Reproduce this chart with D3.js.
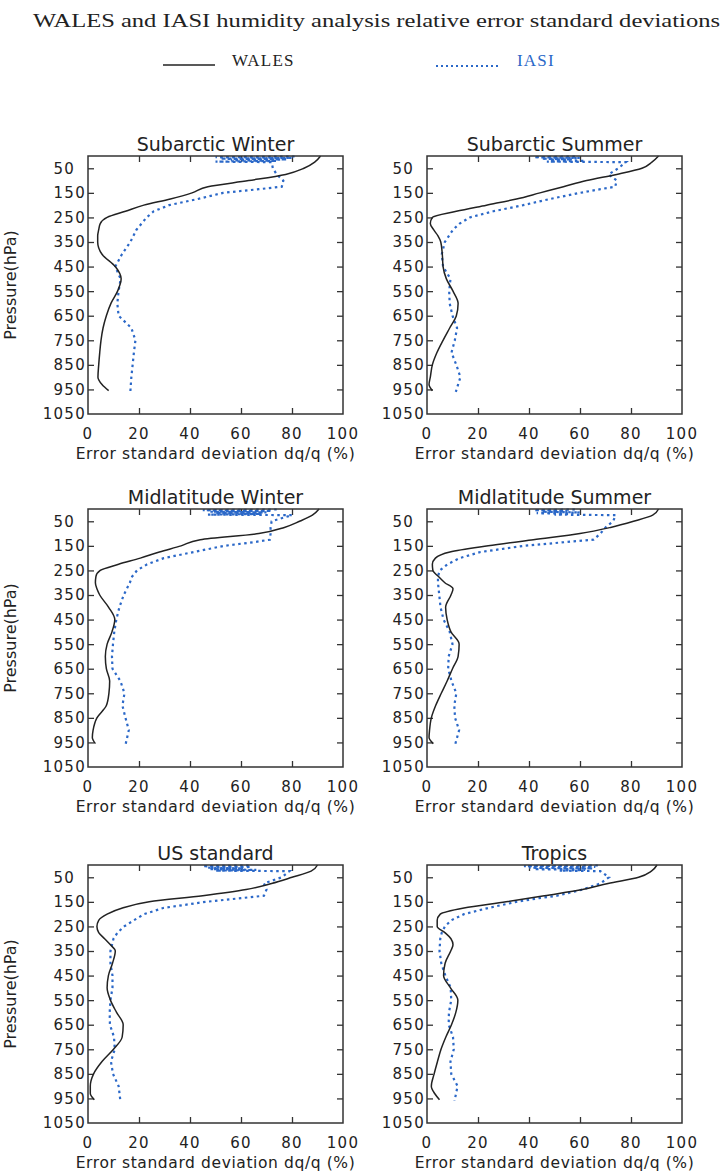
<!DOCTYPE html>
<html>
<head>
<meta charset="utf-8">
<script src="https://cdn.jsdelivr.net/npm/d3@7/dist/d3.min.js"></script>
<style>
  body { margin: 0; background: #fff; }
</style>
</head>
<body>
<div id="chart"></div>
<script>
const panelTitles = ["Subarctic Winter", "Subarctic Summer", "Midlatitude Winter",
                     "Midlatitude Summer", "US standard", "Tropics"];

// pressure levels (hPa) the two curves are sampled on
const walesPressure = [0, 25, 50, 75, 100, 125, 150, 175, 200, 225, 250, 275, 300, 325, 350,
                       400, 450, 500, 550, 600, 650, 700, 750, 800, 850, 900, 930, 955];
const iasiPressure = [2, 5, 8, 11, 14, 17, 20, 23, 25, 50, 75, 100, 125, 135, 150, 175, 200,
                      225, 250, 275, 300, 350, 400, 450, 500, 550, 600, 650, 700, 750, 800,
                      850, 900, 960];

// WALES relative error std dev (%)
const walesSubWinter = [91.2, 88.9, 84.7, 77.5, 63, 47, 40.8, 32.3, 21.9, 14.7, 7.5, 4.8, 4.2, 3.8, 3.8,
                        5.5, 10.7, 13, 11.6, 9, 7.2, 5.9, 5.1, 4.6, 4.2, 3.9, 5.5, 8.1];
const walesSubSummer = [90.8, 88.2, 84.3, 74.4, 62.6, 53.5, 44.3, 35.1, 23.3, 11.5, 2.1, 1.3, 2.6, 4.3, 5.4,
                        6, 6.3, 7.6, 10.2, 12.2, 11.5, 8.9, 6.3, 3.9, 2.1, 1.3, 0.8, 2.1];
const walesMidWinter = [90.6, 88, 83, 77, 67, 44, 36.5, 28, 20.5, 12, 4.8, 3.1, 2.9, 3.5, 4.6,
                        8.1, 10.5, 9.4, 7.5, 6.8, 7.2, 8.5, 8.2, 7.2, 3.5, 2, 1.7, 2.9];
const walesMidSummer = [90.8, 88.5, 81, 72, 60, 41.7, 24, 9, 3.3, 2.1, 2.3, 4.5, 7, 10.2, 9.4,
                        7.3, 7.9, 9.4, 12.6, 12.2, 10, 7.9, 5.6, 3.4, 1.7, 1, 0.8, 2.5];
const walesUSStd = [90, 87.5, 80, 72, 62, 45, 24, 13.5, 7.5, 4.2, 3.5, 4.2, 6.5, 8.8, 10.7,
                    9.6, 8, 7.5, 8.8, 11.2, 13.8, 13.4, 10, 5.5, 2.2, 0.9, 0.9, 2.5];
const walesTropics = [90.2, 88, 83, 71, 61, 46, 31, 14.5, 5.2, 4, 4, 7, 9.4, 10.2, 9.3,
                      7.1, 6.5, 9.2, 12.1, 11.3, 9.6, 7.4, 5.5, 4.1, 2.8, 1.7, 3, 4.9];

// IASI relative error std dev (%)
const iasiSubWinter = [81, 50, 80, 52, 78, 56, 74, 50, 72, 72.5, 74, 76.6, 76, 67, 53, 43, 31.8,
                       25.8, 23, 21, 19, 16.6, 13.3, 10.7, 12.8, 12, 11.5, 12, 17, 18.6, 18,
                       17.5, 17, 16.6];
const iasiSubSummer = [58, 42, 60, 45, 57, 48, 62, 47, 78, 75, 71.2, 74.4, 73.8, 68, 60, 48.2, 37.7,
                       26, 16.8, 12.8, 10.2, 7, 5.8, 6.3, 9.2, 8.7, 8.9, 10, 11.8, 10.9, 9.6,
                       11.5, 13.1, 11.3];
const iasiMidWinter = [74, 45, 72, 48, 70, 50, 68, 47, 80, 72, 71.6, 71.6, 71.3, 65, 53.3, 41.5, 29.7,
                       23.2, 19.2, 17.3, 16.4, 14, 12.3, 11.1, 10.3, 9.8, 9.4, 9.6, 12.7, 14.3, 13.5,
                       14.7, 16, 14.7];
const iasiMidSummer = [58, 42, 55, 45, 60, 43, 56, 50, 74, 73, 70, 68, 65.3, 54, 38, 21, 12.8,
                       8, 5, 4.3, 4.3, 4.8, 5.3, 6.5, 8.9, 10, 8.5, 8.3, 9.6, 11.5, 10.7,
                       11, 12.6, 11];
const iasiUSStd = [63, 45, 64, 47, 61, 48, 66, 50, 79, 76, 69, 70, 69, 60, 46, 29.5, 22,
                   18, 14.2, 11.6, 10, 8.8, 8.8, 9.6, 9.6, 8.8, 8.5, 8.6, 10.2, 10.5, 9,
                   9.8, 12, 12.7];
const iasiTropics = [67, 38, 66, 40, 65, 42, 62, 52, 68, 71.4, 68, 61, 51, 44, 35, 24, 14.5,
                     9.5, 7, 5.8, 5.2, 4.9, 5.6, 7.2, 9.3, 9.5, 8.6, 8.5, 10.2, 10.5, 9.2,
                     9.5, 12, 10.8];

const xTicks = [0, 20, 40, 60, 80, 100];
const yTicks = [50, 150, 250, 350, 450, 550, 650, 750, 850, 950, 1050];

const walesSeries = [walesSubWinter, walesSubSummer, walesMidWinter, walesMidSummer, walesUSStd, walesTropics];
const iasiSeries = [iasiSubWinter, iasiSubSummer, iasiMidWinter, iasiMidSummer, iasiUSStd, iasiTropics];

const width = 723, height = 1172;
const blue = "#2b68c8";
const plotFont = "'DejaVu Sans', sans-serif";
const serif = "'Liberation Serif', 'DejaVu Serif', serif";

const svg = d3.select("#chart").append("svg")
    .attr("width", width)
    .attr("height", height);

// title and legend
svg.append("text")
    .attr("x", 33).attr("y", 27)
    .attr("font-family", serif)
    .attr("font-size", 19)
    .attr("textLength", 687)
    .attr("lengthAdjust", "spacingAndGlyphs")
    .attr("fill", "#222")
    .text("WALES and IASI humidity analysis relative error standard deviations");

svg.append("line")
    .attr("x1", 163).attr("x2", 215).attr("y1", 65).attr("y2", 65)
    .attr("stroke", "#222").attr("stroke-width", 1.6);
svg.append("text")
    .attr("x", 232).attr("y", 66)
    .attr("font-family", serif).attr("font-size", 17).attr("letter-spacing", 1.2)
    .attr("fill", "#222")
    .text("WALES");
svg.append("line")
    .attr("x1", 436).attr("x2", 500).attr("y1", 66).attr("y2", 66)
    .attr("stroke", blue).attr("stroke-width", 2).attr("stroke-dasharray", "2,3");
svg.append("text")
    .attr("x", 517).attr("y", 66)
    .attr("font-family", serif).attr("font-size", 17).attr("letter-spacing", 1.2)
    .attr("fill", blue)
    .text("IASI");

const cols = [88, 427];
const rows = [156, 509, 865];
const pw = 255, ph = 258;

panelTitles.forEach((title, i) => {
    const left = cols[i % 2];
    const top = rows[Math.floor(i / 2)];

    const x = d3.scaleLinear().domain([0, 100]).range([left, left + pw]);
    const y = d3.scaleLinear().domain([0, 1050]).range([top, top + ph]);

    const g = svg.append("g")
        .attr("font-family", plotFont)
        .attr("fill", "#222");

    // inward ticks on all four sides
    const tickStyle = sel => {
        sel.select(".domain").remove();
        sel.selectAll(".tick line").attr("stroke", "#333").attr("stroke-width", 1.3);
    };
    g.append("g").attr("transform", `translate(${left},0)`)
        .call(d3.axisLeft(y).tickValues(yTicks.slice(0, -1)).tickSize(-6).tickFormat(""))
        .call(tickStyle);
    g.append("g").attr("transform", `translate(${left + pw},0)`)
        .call(d3.axisRight(y).tickValues(yTicks.slice(0, -1)).tickSize(-6).tickFormat(""))
        .call(tickStyle);
    g.append("g").attr("transform", `translate(0,${top})`)
        .call(d3.axisTop(x).tickValues(xTicks.slice(1, -1)).tickSize(-6).tickFormat(""))
        .call(tickStyle);
    g.append("g").attr("transform", `translate(0,${top + ph})`)
        .call(d3.axisBottom(x).tickValues(xTicks.slice(1, -1)).tickSize(-6).tickFormat(""))
        .call(tickStyle);

    // y tick labels (short labels are padded so they line up on the left)
    g.selectAll(".ylab")
        .data(yTicks)
        .join("text")
        .attr("x", left - 2)
        .attr("y", d => y(d))
        .attr("dy", "0.36em")
        .attr("text-anchor", "end")
        .attr("font-size", 15)
        .attr("letter-spacing", 1.3)
        .style("white-space", "pre")
        .text(d => String(d).padEnd(3, "\u2007"));

    // x tick labels
    g.selectAll(".xlab")
        .data(xTicks)
        .join("text")
        .attr("x", d => x(d))
        .attr("y", top + ph + 25)
        .attr("text-anchor", "middle")
        .attr("font-size", 15)
        .attr("letter-spacing", 1.3)
        .text(d => d);

    g.append("text")
        .attr("x", left + pw / 2)
        .attr("y", top + ph + 45)
        .attr("text-anchor", "middle")
        .attr("font-size", 15.5)
        .attr("letter-spacing", 0.6)
        .text("Error standard deviation dq/q (%)");

    g.append("text")
        .attr("x", left + pw / 2)
        .attr("y", top - 5)
        .attr("text-anchor", "middle")
        .attr("font-size", 19)
        .text(title);

    if (i % 2 === 0) {
        g.append("text")
            .attr("transform", `translate(${left - 72},${top + ph / 2}) rotate(-90)`)
            .attr("text-anchor", "middle")
            .attr("font-size", 16)
            .text("Pressure(hPa)");
    }

    // curves
    const walesLine = d3.line()
        .x(d => x(d[1]))
        .y(d => y(d[0]))
        .curve(d3.curveMonotoneY);
    const iasiLine = d3.line()
        .x(d => x(d[1]))
        .y(d => y(d[0]));

    g.append("path")
        .datum(d3.zip(iasiPressure, iasiSeries[i]))
        .attr("d", iasiLine)
        .attr("fill", "none")
        .attr("stroke", blue)
        .attr("stroke-width", 2.2)
        .attr("stroke-dasharray", "2.5,3.5");

    g.append("path")
        .datum(d3.zip(walesPressure, walesSeries[i]))
        .attr("d", walesLine)
        .attr("fill", "none")
        .attr("stroke", "#222")
        .attr("stroke-width", 1.5);

    g.append("rect")
        .attr("x", left).attr("y", top)
        .attr("width", pw).attr("height", ph)
        .attr("fill", "none")
        .attr("stroke", "#333")
        .attr("stroke-width", 1.5);
});
</script>
</body>
</html>
